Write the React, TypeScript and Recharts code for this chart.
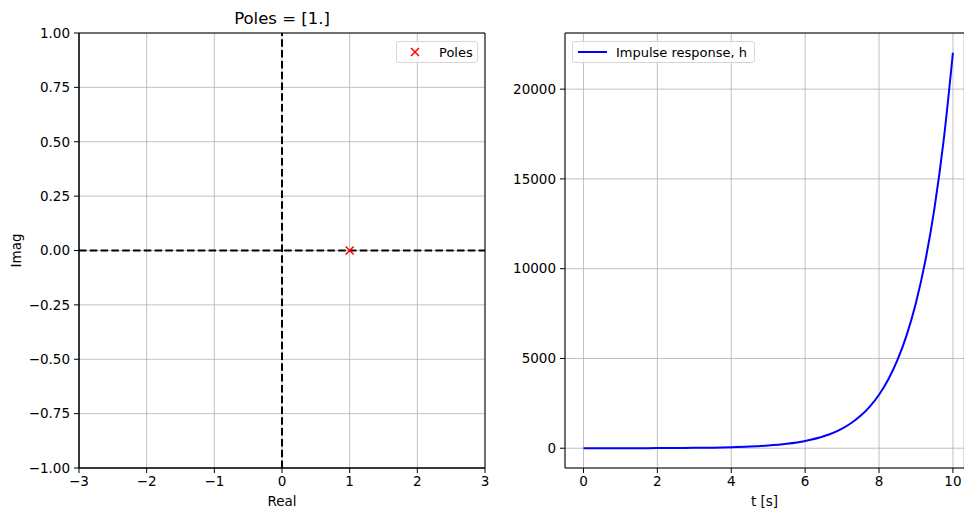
import {
  ScatterChart,
  Scatter,
  LineChart,
  Line,
  XAxis,
  YAxis,
  CartesianGrid,
  ReferenceLine,
  ReferenceArea,
  Label,
} from "recharts";

const FONT = "DejaVu Sans, sans-serif";

// poles of the system
const poleReal = [1];
const poleImag = [0];

// impulse response
const timeS = [
  0, 0.5, 1, 1.5, 2, 2.5, 3, 3.5, 4, 4.5, 5, 5.5, 6, 6.5, 7, 7.25, 7.5, 7.75, 8, 8.25, 8.5, 8.75, 9, 9.25, 9.5,
  9.75, 10,
];
const impulseH = [
  1, 2, 3, 4, 7, 12, 20, 33, 55, 90, 148, 245, 403, 665, 1097, 1408, 1808, 2322, 2981, 3828, 4915, 6311, 8103,
  10405, 13360, 17154, 22026,
];

const realTicks = [-3, -2, -1, 0, 1, 2, 3];
const imagTicks = [-1, -0.75, -0.5, -0.25, 0, 0.25, 0.5, 0.75, 1];
const tTicks = [0, 2, 4, 6, 8, 10];
const hTicks = [0, 5000, 10000, 15000, 20000];

const poleData = poleReal.map((x, i) => ({ x, y: poleImag[i] }));
const impulseData = timeS.map((t, i) => ({ t, h: impulseH[i] }));

const minus = (s: string) => s.replace("-", "\u2212");
const FS = 13.5;
const tick = { fill: "#000", fontSize: FS, fontFamily: FONT };

const Cross = (props: any) => {
  const { cx, cy } = props;
  const r = 4;
  return (
    <path
      d={`M${cx - r},${cy - r}L${cx + r},${cy + r}M${cx - r},${cy + r}L${cx + r},${cy - r}`}
      stroke="#ff0000"
      strokeWidth={1.5}
      fill="none"
    />
  );
};

const legendBox: React.CSSProperties = {
  position: "absolute",
  top: 41,
  border: "1px solid #d6d6d6",
  borderRadius: 3,
  background: "rgba(255,255,255,0.8)",
  height: 22,
  display: "flex",
  alignItems: "center",
  fontFamily: FONT,
  fontSize: 13,
  color: "#000",
  boxSizing: "border-box",
};

function PoleLegend() {
  return (
    <div style={{ ...legendBox, left: 396, width: 82 }}>
      <svg width={36} height={20}>
        <Cross cx={18} cy={10} />
      </svg>
      <span style={{ marginLeft: 6 }}>Poles</span>
    </div>
  );
}

function ImpulseLegend() {
  return (
    <div style={{ ...legendBox, left: 572, width: 183 }}>
      <svg width={40} height={20}>
        <line x1={5} y1={10} x2={34} y2={10} stroke="#0000ff" strokeWidth={2} />
      </svg>
      <span style={{ marginLeft: 3 }}>Impulse response, h</span>
    </div>
  );
}

function PoleChart() {
  return (
    <ScatterChart width={500} height={510} margin={{ top: 33, right: 15, bottom: 0, left: 0 }}>
      <CartesianGrid stroke="#b0b0b0" strokeWidth={0.8} />
      <XAxis
        type="number"
        dataKey="x"
        domain={[-3, 3]}
        ticks={realTicks}
        height={42}
        tick={tick}
        tickSize={5}
        tickMargin={3}
        tickFormatter={(v) => minus(String(v))}
        stroke="#000"
      >
        <Label value="Real" position="insideBottom" offset={4} fill="#000" fontSize={FS} fontFamily={FONT} />
      </XAxis>
      <YAxis
        type="number"
        dataKey="y"
        domain={[-1, 1]}
        ticks={imagTicks}
        width={79}
        tick={tick}
        tickSize={5}
        tickMargin={4}
        tickFormatter={(v) => minus(Number(v).toFixed(2))}
        stroke="#000"
      >
        <Label
          content={(p: any) => {
            const vb = p.viewBox;
            const cy = vb.y + vb.height / 2;
            return (
              <text
                x={16}
                y={cy}
                transform={`rotate(-90 16 ${cy})`}
                textAnchor="middle"
                dominantBaseline="central"
                fontSize={FS}
                fontFamily={FONT}
                fill="#000"
              >
                Imag
              </text>
            );
          }}
        />
      </YAxis>
      <ReferenceLine x={0} stroke="#000" strokeWidth={2} strokeDasharray="7.5 3.3" />
      <ReferenceLine y={0} stroke="#000" strokeWidth={2} strokeDasharray="7.5 3.3" />
      <ReferenceArea x1={-3} x2={3} y1={-1} y2={1} fill="none" stroke="#000" strokeWidth={1} />
      <Scatter data={poleData} shape={<Cross />} isAnimationActive={false} />
    </ScatterChart>
  );
}

function ImpulseChart() {
  return (
    <LineChart width={484} height={510} data={impulseData} margin={{ top: 33, right: 0, bottom: 0, left: 0 }}>
      <CartesianGrid stroke="#b0b0b0" strokeWidth={0.8} />
      <XAxis
        type="number"
        dataKey="t"
        domain={[-0.5, 10.3]}
        allowDataOverflow
        ticks={tTicks}
        height={42}
        tick={tick}
        tickSize={5}
        tickMargin={3}
        stroke="#000"
      >
        <Label value="t [s]" position="insideBottom" offset={4} fill="#000" fontSize={FS} fontFamily={FONT} />
      </XAxis>
      <YAxis
        type="number"
        domain={[-1101, 23127]}
        allowDataOverflow
        ticks={hTicks}
        width={85}
        tick={tick}
        tickSize={5}
        tickMargin={4}
        stroke="#000"
      />
      <ReferenceLine y={23127} stroke="#000" strokeWidth={1} />
      <Line
        type="monotone"
        dataKey="h"
        stroke="#0000ff"
        strokeWidth={2}
        dot={false}
        isAnimationActive={false}
      />
    </LineChart>
  );
}

export default function App() {
  return (
    <div style={{ position: "absolute", left: 0, top: 0, width: 964, height: 510, background: "#fff", fontFamily: FONT }}>
      <div
        style={{
          position: "absolute",
          left: 79,
          width: 406,
          top: 9,
          textAlign: "center",
          fontSize: 16.5,
          color: "#000",
        }}
      >
        Poles = [1.]
      </div>
      <div style={{ position: "absolute", left: 0, top: 0 }}>
        <PoleChart />
      </div>
      <div style={{ position: "absolute", left: 480, top: 0 }}>
        <ImpulseChart />
      </div>
      <PoleLegend />
      <ImpulseLegend />
    </div>
  );
}
